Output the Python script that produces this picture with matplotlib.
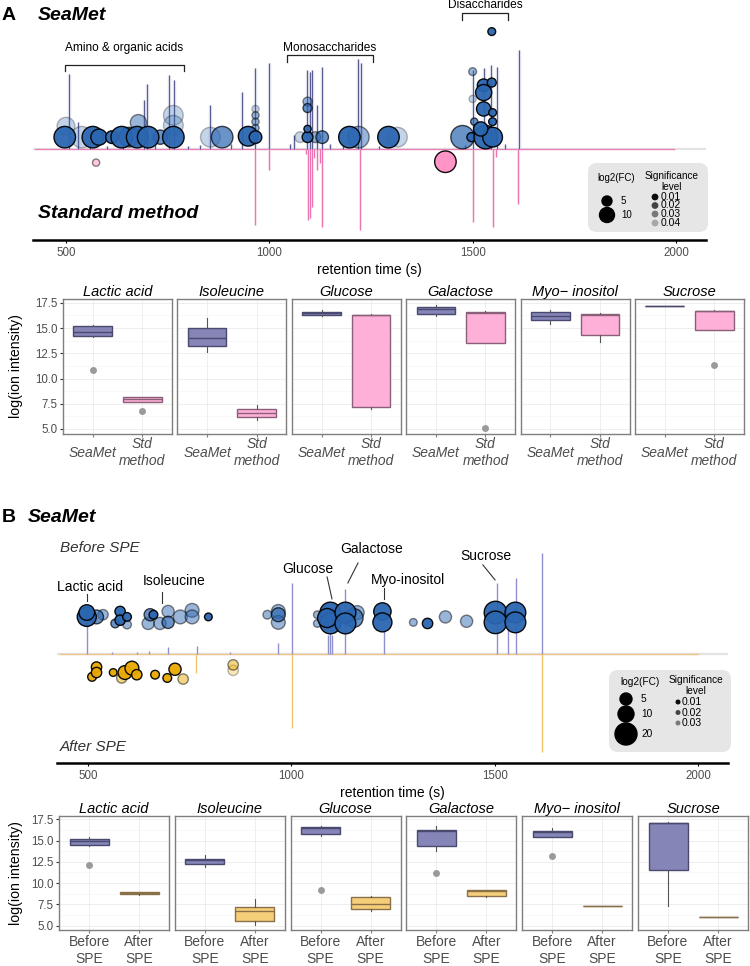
import numpy as np
import matplotlib.pyplot as plt
from matplotlib.colors import to_rgba
from matplotlib.patches import FancyBboxPatch

plt.rcParams['font.family'] = ['Liberation Sans', 'DejaVu Sans']

W, H = 750, 966
fig = plt.figure(figsize=(7.5, 9.66), dpi=100)


def px_axes(x0, y0, x1, y1):
    return fig.add_axes([x0 / W, 1 - y1 / H, (x1 - x0) / W, (y1 - y0) / H])


# ---------------- data: panel A chromatogram ----------------
seamet_a_rt = [507, 530, 560, 600, 640, 692, 700, 720, 754, 766, 800, 830, 855, 905, 934, 966,
               1000, 1050, 1060, 1093, 1101, 1106, 1118, 1130, 1150, 1180, 1217, 1226, 1270,
               1480, 1500, 1527, 1544, 1559, 1580, 1613]
seamet_a_h = [0.82, 0.30, 0.04, 0.03, 0.04, 0.54, 0.71, 0.04, 0.81, 0.76, 0.03, 0.04, 0.48, 0.05, 0.63, 0.89,
              0.94, 0.05, 0.15, 0.87, 0.85, 0.87, 0.48, 0.90, 0.05, 0.04, 0.99, 0.94, 0.03,
              0.04, 0.87, 0.89, 0.92, 0.90, 0.05, 1.09]
std_a_rt = [966, 1000, 1090, 1096, 1101, 1106, 1110, 1118, 1125, 1130, 1224, 1500, 1549, 1557, 1611]
std_a_h = [-0.84, -0.23, -0.05, -0.78, -0.76, -0.64, -0.10, -0.23, -0.15, -0.86, -0.89, -0.80, -0.86, -0.09, -0.60]

# bubbles: retention time, height, log2(FC), p value
bub_a_rt = [497, 500, 539, 566, 581, 613, 637, 655, 675, 678, 702, 732, 764, 764, 764, 855, 884,
            948, 966, 966, 966, 966, 966, 1094, 1076, 1094, 1094, 1094, 1113, 1130, 1197, 1219,
            1293, 1315, 1475, 1497, 1504, 1500, 1547, 1500, 1527, 1547, 1527, 1527, 1549, 1549,
            1532, 1549, 1520]
bub_a_y = [0.13, 0.25, 0.13, 0.13, 0.13, 0.13, 0.13, 0.13, 0.13, 0.29, 0.13, 0.13, 0.13, 0.37, 0.26, 0.13, 0.13,
           0.14, 0.13, 0.23, 0.30, 0.37, 0.44, 0.13, 0.13, 0.22, 0.45, 0.52, 0.13, 0.13, 0.13, 0.13,
           0.13, 0.13, 0.13, 0.13, 0.30, 0.55, 1.29, 0.85, 0.70, 0.73, 0.62, 0.44, 0.40, 0.30,
           0.13, 0.13, 0.22]
bub_a_fc = [17, 12, 17, 17, 10, 6.5, 17, 14.4, 17, 10, 17, 8, 17, 14.4, 14.4, 14.4, 17,
            14.4, 6.5, 2.8, 2.8, 2.8, 2.8, 5, 5, 2.8, 3.8, 3.8, 5, 6.5, 17, 17,
            17, 14.4, 19.8, 3.8, 2.8, 2.8, 3.1, 3.1, 6.5, 3.8, 10, 8, 3.1, 3.1,
            19.8, 14.4, 8]
bub_a_p = [0.01, 0.04, 0.04, 0.01, 0.01, 0.01, 0.01, 0.02, 0.01, 0.03, 0.01, 0.02, 0.01, 0.04, 0.04, 0.04, 0.02,
           0.01, 0.01, 0.03, 0.03, 0.03, 0.04, 0.01, 0.04, 0.01, 0.02, 0.03, 0.03, 0.02, 0.01, 0.03,
           0.01, 0.04, 0.02, 0.01, 0.02, 0.04, 0.01, 0.03, 0.01, 0.01, 0.01, 0.01, 0.01, 0.01,
           0.01, 0.01, 0.01]
bub_std_rt = [574, 1433]
bub_std_y = [-0.15, -0.14]
bub_std_fc = [2.8, 17]
bub_std_p = [0.03, 0.01]

# ---------------- data: panel B chromatogram ----------------
before_rt = [498, 560, 620, 650, 697, 768, 850, 968, 1002, 1090, 1096, 1100, 1133, 1227,
             1505, 1534, 1552, 1616]
before_h = [0.30, 0.02, 0.02, 0.03, 0.06, 0.07, 0.02, 0.10, 0.65, 0.17, 0.20, 0.17, 0.60, 0.22,
            0.65, 0.35, 0.70, 0.93]
after_rt = [766, 1002, 1616]
after_h = [-0.17, -0.68, -0.90]

bub_b_rt = [497, 497, 521, 537, 579, 579, 596, 567, 596, 653, 661, 648, 677, 697, 697, 727, 756, 756,
            796, 941, 968, 968, 968, 1064, 1064, 1096, 1096, 1088, 1133, 1133, 1153, 1162, 1224, 1224,
            1300, 1335, 1379, 1431, 1502, 1502, 1551, 1551]
bub_b_y = [0.34, 0.38, 0.34, 0.36, 0.39, 0.31, 0.34, 0.28, 0.27, 0.36, 0.36, 0.28, 0.28, 0.39, 0.29, 0.34, 0.40, 0.34,
           0.34, 0.36, 0.39, 0.36, 0.29, 0.36, 0.28, 0.38, 0.28, 0.33, 0.38, 0.28, 0.33, 0.38, 0.39, 0.29,
           0.29, 0.28, 0.34, 0.30, 0.38, 0.29, 0.38, 0.29]
bub_b_fc = [13.5, 8.6, 6.5, 3.0, 3.0, 3.0, 1.7, 1.7, 1.7, 4.7, 1.7, 4.7, 4.7, 4.7, 4.7, 6.5, 6.5, 6.5,
            1.0, 1.7, 6.5, 6.5, 6.5, 1.0, 1.0, 16.4, 16.4, 13.5, 16.4, 16.4, 13.5, 6.5, 11, 13.5,
            1.0, 3.0, 4.7, 4.7, 19.6, 19.6, 16.4, 16.4]
bub_b_p = [0.01, 0.01, 0.02, 0.03, 0.01, 0.01, 0.01, 0.02, 0.03, 0.02, 0.01, 0.03, 0.03, 0.03, 0.02, 0.03, 0.03, 0.03,
           0.01, 0.03, 0.03, 0.02, 0.03, 0.03, 0.03, 0.01, 0.01, 0.01, 0.01, 0.01, 0.02, 0.03, 0.01, 0.01,
           0.03, 0.01, 0.03, 0.03, 0.01, 0.01, 0.01, 0.01]
bub_after_rt = [510, 521, 521, 562, 583, 591, 608, 620, 665, 695, 714, 734, 857, 857]
bub_after_y = [-0.21, -0.12, -0.17, -0.17, -0.22, -0.17, -0.13, -0.19, -0.19, -0.22, -0.14, -0.23, -0.10, -0.15]
bub_after_fc = [1.7, 3.0, 3.0, 1.0, 3.0, 6.5, 6.5, 3.0, 1.7, 1.7, 4.7, 3.0, 3.0, 3.0]
bub_after_p = [0.01, 0.01, 0.01, 0.01, 0.03, 0.01, 0.01, 0.01, 0.01, 0.01, 0.01, 0.03, 0.03, 0.04]

# ---------------- data: box plots (whislo, q1, median, q3, whishi) ----------------
compounds = ["Lactic acid", "Isoleucine", "Glucose", "Galactose", "Myo\u2212 inositol", "Sucrose"]
seamet_a = [(14.10, 14.18, 14.62, 15.18, 15.28), (12.60, 13.19, 14.02, 14.98, 15.97),
            (16.17, 16.27, 16.50, 16.64, 16.77), (16.24, 16.44, 16.84, 17.10, 17.30),
            (15.38, 15.80, 16.20, 16.60, 16.80), (17.14, 17.15, 17.17, 17.19, 17.20)]
seamet_a_out = [[10.87], [], [], [], [], []]
std_a = [(7.70, 7.72, 7.92, 8.12, 8.15), (5.86, 6.23, 6.63, 7.02, 7.39),
         (6.96, 7.22, 16.30, 16.34, 16.36), (13.50, 13.52, 16.50, 16.57, 16.74),
         (13.62, 14.35, 16.34, 16.40, 16.54), (14.85, 14.85, 16.67, 16.74, 16.80)]
std_a_out = [[6.79], [], [], [5.13], [], [11.37]]
before_b = [(14.38, 14.45, 14.96, 15.23, 15.39), (11.95, 12.30, 12.66, 12.89, 13.36),
            (15.55, 15.74, 16.50, 16.56, 16.76), (13.83, 14.38, 16.17, 16.25, 16.76),
            (15.47, 15.47, 16.05, 16.13, 16.45), (7.27, 11.56, 17.07, 17.11, 17.13)]
before_b_out = [[12.15], [], [9.14], [11.17], [13.20], []]
after_b = [(8.65, 8.67, 8.83, 8.95, 9.00), (5.12, 5.51, 6.76, 7.19, 8.16),
           (6.76, 6.95, 7.58, 8.32, 8.44), (8.32, 8.44, 9.02, 9.22, 9.22),
           (7.27, 7.27, 7.27, 7.27, 7.27), (5.98, 5.98, 5.98, 5.98, 5.98)]
after_b_out = [[], [], [], [], [], []]

ALPHA = {0.01: 0.95, 0.02: 0.7, 0.03: 0.48, 0.04: 0.27}
BLUE = '#2b66b1'
PINK = '#ff8ec4'
YELLOW = '#e9a900'


def size_a(fc):
    return 0.60 * np.maximum(25 * np.asarray(fc, float) - 25, 16)


def size_b(fc):
    return 0.56 * (32 + 22.4 * np.asarray(fc, float))


def bubbles(ax, rt, y, fc, p, color, sizef):
    order = np.argsort([ALPHA[v] for v in p], kind='stable')
    face = [to_rgba(color, ALPHA[p[i]]) for i in order]
    edge = [to_rgba('black', ALPHA[p[i]]) for i in order]
    ax.scatter(np.array(rt)[order], np.array(y)[order], s=sizef(np.array(fc)[order]),
               facecolors=face, edgecolors=edge, linewidths=1.0, zorder=5, clip_on=False)


def chrom_axes(ax, xlim, ylim):
    ax.set_xlim(*xlim)
    ax.set_ylim(*ylim)
    for s in ['left', 'right', 'top']:
        ax.spines[s].set_visible(False)
    ax.spines['bottom'].set_linewidth(1.8)
    ax.set_yticks([])
    ax.set_xticks([500, 1000, 1500, 2000])
    ax.tick_params(axis='x', length=2.5, width=0.8, pad=2.5, labelsize=8.3, labelcolor='#4d4d4d')
    ax.set_xlabel('retention time (s)', fontsize=10, labelpad=3)
    ax.patch.set_alpha(0)


# ---------------- panel A chromatogram ----------------
axA = px_axes(33, 0, 706, 240)
chrom_axes(axA, (418.9, 2073.8), (-1.0, 1.637))
axA.plot([418.9, 2073.8], [0, 0], color='#e3e3e3', lw=1.6, zorder=1)
axA.plot([425, 1995], [0, 0], color='#ee7ab6', lw=0.9, zorder=2)
axA.vlines(seamet_a_rt, 0, seamet_a_h, color='#b8bcd8', lw=2.4, alpha=0.5, zorder=2)
axA.vlines(seamet_a_rt, 0, seamet_a_h, color='#44447f', lw=0.6, zorder=3)
axA.vlines(std_a_rt, 0, std_a_h, color='#f7bcd9', lw=2.0, alpha=0.55, zorder=2)
axA.vlines(std_a_rt, 0, std_a_h, color='#ea62a8', lw=0.6, zorder=3)
bubbles(axA, bub_a_rt, bub_a_y, bub_a_fc, bub_a_p, BLUE, size_a)
bubbles(axA, bub_std_rt, bub_std_y, bub_std_fc, bub_std_p, PINK, size_a)

# group brackets
for x0, x1, ytop, yend, label, ytxt in [(497.5, 790, 0.923, 0.857, 'Amino & organic acids', 1.11),
                                         (1043, 1255, 1.033, 0.956, 'Monosaccharides', 1.11),
                                         (1474, 1587, 1.495, 1.418, 'Disaccharides', 1.582)]:
    axA.plot([x0, x0, x1, x1], [yend, ytop, ytop, yend], color='#222222', lw=0.9, clip_on=False)
    axA.text((x0 + x1) / 2, ytxt, label, ha='center', va='center', fontsize=8.6, clip_on=False)

# ---------------- panel B chromatogram ----------------
axB = px_axes(57, 525, 728, 763)
chrom_axes(axB, (423.8, 2073.8), (-1.0, 1.183))
axB.plot([423.8, 2073.8], [0, 0], color='#e3e3e3', lw=1.6, zorder=1)
axB.plot([430, 2000], [0, 0], color='#efc58e', lw=1.0, zorder=2)
axB.vlines(before_rt, 0, before_h, color='#9090cf', lw=1.0, zorder=3)
axB.vlines(after_rt, 0, after_h, color='#f2c46c', lw=1.0, zorder=3)
bubbles(axB, bub_b_rt, bub_b_y, bub_b_fc, bub_b_p, BLUE, size_b)
bubbles(axB, bub_after_rt, bub_after_y, bub_after_fc, bub_after_p, YELLOW, size_b)

for label, tx, ty, lx0, ly0, lx1, ly1 in [
        ('Lactic acid', 505, 0.615, 497.5, 0.55, 497.5, 0.486),
        ('Isoleucine', 711, 0.67, 682, 0.569, 682, 0.468),
        ('Glucose', 1041, 0.78, 1088, 0.706, 1100, 0.505),
        ('Galactose', 1198, 0.963, 1164, 0.835, 1139, 0.651),
        ('Myo-inositol', 1287, 0.679, 1228, 0.606, 1228, 0.505),
        ('Sucrose', 1479, 0.899, 1471, 0.817, 1501, 0.679)]:
    axB.text(tx, ty, label, ha='center', va='center', fontsize=10, clip_on=False)
    axB.plot([lx0, lx1], [ly0, ly1], color='#333333', lw=0.8, clip_on=False)


# ---------------- box plots ----------------
def box_row(x0, x_step, width, y0, y1, g1, g1_out, g2, g2_out, colors, labels, italic, pad):
    axes = []
    for i, name in enumerate(compounds):
        ax = px_axes(x0 + i * x_step, y0, x0 + i * x_step + width, y1)
        ax.set_xlim(0.4, 2.6)
        ax.set_ylim(4.5, 17.88)
        ax.set_yticks([5, 7.5, 10, 12.5, 15, 17.5])
        ax.set_yticks([6.25, 8.75, 11.25, 13.75, 16.25], minor=True)
        ax.set_xticks([1, 2])
        ax.grid(True, which='major', color='#ebebeb', lw=0.6)
        ax.grid(True, which='minor', axis='y', color='#f5f5f5', lw=0.5)
        ax.set_axisbelow(True)
        for s in ax.spines.values():
            s.set_color('#7f7f7f')
            s.set_linewidth(1.0)
        for pos, g, go, (fill, edge) in [(1, g1, g1_out, colors[0]), (2, g2, g2_out, colors[1])]:
            st = g[i]
            stats = [dict(whislo=st[0], q1=st[1], med=st[2], q3=st[3], whishi=st[4], fliers=go[i])]
            ax.bxp(stats, positions=[pos], widths=0.78, patch_artist=True, showcaps=False,
                   boxprops=dict(facecolor=fill, edgecolor=edge, lw=1.0),
                   medianprops=dict(color=edge, lw=1.0),
                   whiskerprops=dict(color='#555555', lw=0.8),
                   flierprops=dict(marker='o', markerfacecolor='#9a9a9a', markeredgecolor='none',
                                   markersize=5))
        ax.set_xlim(0.4, 2.6)
        ax.set_xticks([1, 2])
        ax.set_xticklabels(labels, style='italic' if italic else 'normal', fontsize=10,
                           color='#4d4d4d', va='center', linespacing=1.25)
        ax.tick_params(axis='x', length=2, color='#7f7f7f', pad=pad)
        ax.tick_params(axis='y', which='minor', length=0)
        if i == 0:
            ax.set_yticklabels(['5.0', '7.5', '10.0', '12.5', '15.0', '17.5'])
            ax.tick_params(axis='y', which='major', length=2.5, color='#333333', labelsize=8.3,
                           labelcolor='#4d4d4d', pad=1.5)
        else:
            ax.tick_params(axis='y', which='major', length=0, labelleft=False)
        ax.set_title(name, style='italic', fontsize=10.5, pad=2.5)
        axes.append(ax)
    return axes


box_row(63, 114.4, 109, 299, 434, seamet_a, seamet_a_out, std_a, std_a_out,
        [('#8585b8', '#4a4a70'), ('#ffb0d8', '#8a6078')],
        ['SeaMet', 'Std\nmethod'], True, 11.5)
box_row(59, 115.8, 110, 816, 930, before_b, before_b_out, after_b, after_b_out,
        [('#8585b8', '#4a4a70'), ('#f5ce7a', '#8a7048')],
        ['Before\nSPE', 'After\nSPE'], False, 12.5)

fig.text(16 / W, 1 - 366 / H, 'log(ion intensity)', rotation=90, ha='center', va='center', fontsize=10.2)
fig.text(16 / W, 1 - 873 / H, 'log(ion intensity)', rotation=90, ha='center', va='center', fontsize=10.2)

# ---------------- overlay: panel labels and legends ----------------
ov = fig.add_axes([0, 0, 1, 1], zorder=20)
ov.set_xlim(0, W)
ov.set_ylim(H, 0)
ov.axis('off')
ov.patch.set_alpha(0)

ov.text(2, 15, 'A', fontsize=14, fontweight='bold', va='center')
ov.text(38, 15, 'SeaMet', fontsize=14, fontweight='bold', style='italic', va='center')
ov.text(38, 213, 'Standard method', fontsize=14, fontweight='bold', style='italic', va='center')
ov.text(2, 517, 'B', fontsize=14, fontweight='bold', va='center')
ov.text(28, 517, 'SeaMet', fontsize=14, fontweight='bold', style='italic', va='center')
ov.text(60, 548, 'Before SPE', fontsize=11, style='italic', va='center', color='#333333')
ov.text(60, 747, 'After SPE', fontsize=11, style='italic', va='center', color='#333333')

# legend A
ov.add_patch(FancyBboxPatch((588, 163), 120, 69, boxstyle='round,pad=0,rounding_size=9',
                            fc='#e6e6e6', ec='none'))
ov.text(616, 178, 'log2(FC)', ha='center', va='center', fontsize=7)
ov.scatter([607, 607], [201, 215], s=0.5184 * np.array([100, 225]), c='black')
ov.text(621, 201, '5', va='center', fontsize=7)
ov.text(621, 215, '10', va='center', fontsize=7)
ov.text(672, 176, 'Significance', ha='center', va='center', fontsize=7.2)
ov.text(672, 187, 'level', ha='center', va='center', fontsize=7.2)
for yy, pv in zip([197, 205.5, 214, 223], [0.01, 0.02, 0.03, 0.04]):
    ov.scatter([655], [yy], s=24, color=to_rgba('black', ALPHA[pv]), edgecolors='none')
    ov.text(661, yy, f'{pv:.2f}', va='center', fontsize=7.5)

# legend B
ov.add_patch(FancyBboxPatch((609, 670), 122, 82, boxstyle='round,pad=0,rounding_size=9',
                            fc='#e6e6e6', ec='none'))
ov.text(640, 682, 'log2(FC)', ha='center', va='center', fontsize=7.3)
ov.scatter([626, 626, 626], [699, 714, 734], s=0.5184 * np.array([144, 256, 484]), c='black')
for yy, t in zip([699, 714, 734], ['5', '10', '20']):
    ov.text(641, yy, t, va='center', fontsize=7.3)
ov.text(696, 680, 'Significance', ha='center', va='center', fontsize=7.3)
ov.text(696, 691, 'level', ha='center', va='center', fontsize=7.3)
for yy, pv in zip([702, 712.5, 723], [0.01, 0.02, 0.03]):
    ov.scatter([678], [yy], s=13, color=to_rgba('black', ALPHA[pv]), edgecolors='none')
    ov.text(682, yy, f'{pv:.2f}', va='center', fontsize=7.5)

fig.savefig('out.png', dpi=100)
